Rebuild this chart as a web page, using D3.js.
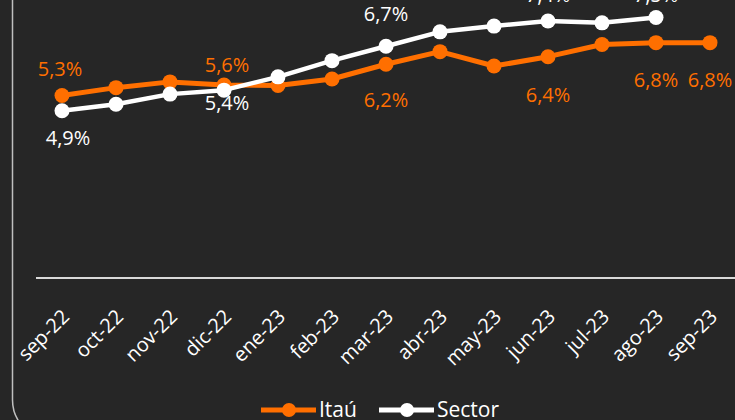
<!DOCTYPE html>
<html>
<head>
<meta charset="utf-8">
<script src="https://cdn.jsdelivr.net/npm/d3@7"></script>
<style>
  html, body { margin: 0; padding: 0; background: #262626; }
  svg { display: block; font-family: "Open Sans", "Noto Sans", sans-serif; }
</style>
</head>
<body>
<div id="chart"></div>
<script>

// months on the x axis
var months = ["sep-22", "oct-22", "nov-22", "dic-22", "ene-23", "feb-23", "mar-23",
              "abr-23", "may-23", "jun-23", "jul-23", "ago-23", "sep-23"];

// values in %
var itau   = [5.29, 5.51, 5.67, 5.58, 5.57, 5.75, 6.16, 6.51, 6.11, 6.37, 6.71, 6.76, 6.76];
var sector = [4.87, 5.05, 5.33, 5.44, 5.81, 6.26, 6.66, 7.06, 7.22, 7.36, 7.31, 7.46, null];

// which points carry a data label
var itauLabelIdx   = [0, 3, 6, 9, 11, 12];
var sectorLabelIdx = [0, 3, 6, 9, 11];

var W = 735, H = 420;
var orange = "#ff6f00", white = "#ffffff";

var svg = d3.select("#chart").append("svg")
    .attr("width", W)
    .attr("height", H);

svg.append("rect").attr("width", W).attr("height", H).attr("fill", "#262626");

// outer rounded frame (cropped)
svg.append("rect")
    .attr("x", 12.5).attr("y", -60)
    .attr("width", 900).attr("height", 499)
    .attr("rx", 39).attr("ry", 39)
    .attr("fill", "none")
    .attr("stroke", "#bfbfbf")
    .attr("stroke-width", 1.5);

var x = d3.scalePoint().domain(months).range([62, 710]);
var y = d3.scaleLinear().domain([0, 8]).range([286, -2]);

// x axis
var xAxis = svg.append("g")
    .attr("transform", "translate(0,278)")
    .call(d3.axisBottom(x).tickSize(0).tickPadding(0))
    .attr("font-family", null)
    .attr("font-size", null);
xAxis.select(".domain").remove();
xAxis.append("line")
    .attr("x1", 36).attr("x2", W + 10)
    .attr("stroke", "#d9d9d9")
    .attr("stroke-width", 2);
xAxis.selectAll(".tick text")
    .attr("fill", "#ffffff")
    .style("font-size", "20px")
    .style("text-anchor", "end")
    .attr("dy", 0)
    .attr("transform", "translate(8,40) rotate(-45)");

var line = d3.line()
    .defined(function(d) { return d != null; })
    .x(function(d, i) { return x(months[i]); })
    .y(function(d) { return y(d); });

function drawSeries(values, color, width, r) {
  svg.append("path")
      .datum(values)
      .attr("d", line)
      .attr("fill", "none")
      .attr("stroke", color)
      .attr("stroke-width", width)
      .attr("stroke-linejoin", "round");

  svg.selectAll(null)
      .data(values.map(function(v, i) { return {v: v, i: i}; })
                  .filter(function(d) { return d.v != null; }))
      .enter().append("circle")
      .attr("cx", function(d) { return x(months[d.i]); })
      .attr("cy", function(d) { return y(d.v); })
      .attr("r", r)
      .attr("fill", color);
}

drawSeries(itau, orange, 5, 7.5);
drawSeries(sector, white, 4.5, 7.5);

function fmt(v) { return d3.format(".1f")(v).replace(".", ",") + "%"; }

// vertical label offsets (baseline relative to point), as placed in the original
var itauDy   = {0: -20, 3: -13, 6: 43, 9: 45, 11: 44, 12: 44};
var sectorDy = {0: 34, 3: 20, 6: -25, 9: -19, 11: -15};
var sectorDx = {0: 6, 3: 3};
var itauDx   = {0: -2, 3: 3};

function drawLabels(values, idx, color, dyMap, dxMap) {
  svg.selectAll(null)
      .data(idx)
      .enter().append("text")
      .attr("x", function(i) { return x(months[i]) + (dxMap[i] || 0); })
      .attr("y", function(i) { return y(values[i]) + dyMap[i]; })
      .attr("text-anchor", "middle")
      .attr("fill", color)
      .style("font-size", "20px")
      .text(function(i) { return fmt(values[i]); });
}

drawLabels(itau, itauLabelIdx, orange, itauDy, itauDx);
drawLabels(sector, sectorLabelIdx, white, sectorDy, sectorDx);

// legend
var legend = svg.append("g").attr("transform", "translate(0,410)");
var items = [{name: "Itaú", color: orange, x0: 261}, {name: "Sector", color: white, x0: 379}];
items.forEach(function(it) {
  legend.append("line")
      .attr("x1", it.x0).attr("x2", it.x0 + 55)
      .attr("stroke", it.color).attr("stroke-width", 5);
  legend.append("circle")
      .attr("cx", it.x0 + 28).attr("cy", 0).attr("r", 7)
      .attr("fill", it.color);
  legend.append("text")
      .attr("x", it.x0 + 58).attr("y", 7)
      .attr("fill", "#ffffff")
      .style("font-size", "21px")
      .text(it.name);
});

</script>
</body>
</html>
